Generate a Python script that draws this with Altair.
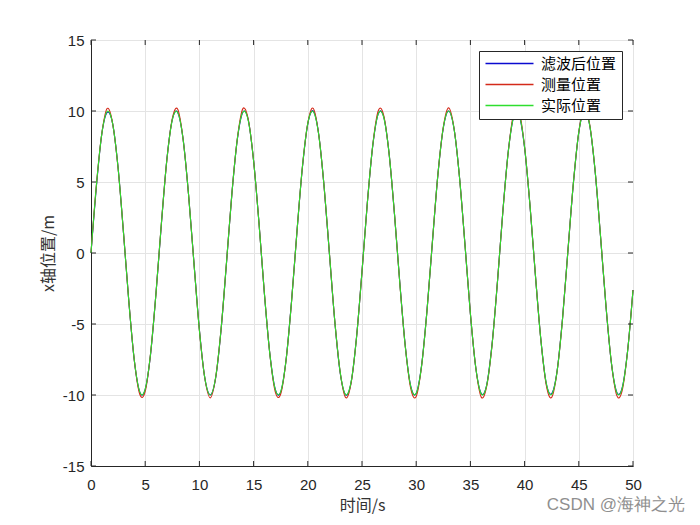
import altair as alt
import pandas as pd

# ---- data ----
time_s = [0, 0.5, 1, 1.5, 2, 2.5, 3, 3.5, 4, 4.5,
          5, 5.5, 6, 6.5, 7, 7.5, 8, 8.5, 9, 9.5,
          10, 10.5, 11, 11.5, 12, 12.5, 13, 13.5, 14, 14.5,
          15, 15.5, 16, 16.5, 17, 17.5, 18, 18.5, 19, 19.5,
          20, 20.5, 21, 21.5, 22, 22.5, 23, 23.5, 24, 24.5,
          25, 25.5, 26, 26.5, 27, 27.5, 28, 28.5, 29, 29.5,
          30, 30.5, 31, 31.5, 32, 32.5, 33, 33.5, 34, 34.5,
          35, 35.5, 36, 36.5, 37, 37.5, 38, 38.5, 39, 39.5,
          40, 40.5, 41, 41.5, 42, 42.5, 43, 43.5, 44, 44.5,
          45, 45.5, 46, 46.5, 47, 47.5, 48, 48.5, 49, 49.5,
          50]

actual = [0, 4.79, 8.41, 9.97, 9.09, 5.98, 1.41, -3.51, -7.57, -9.78,
          -9.59, -7.06, -2.79, 2.15, 6.57, 9.38, 9.89, 7.98, 4.12, -0.75,
          -5.44, -8.80, -10.00, -8.75, -5.37, -0.66, 4.20, 8.04, 9.91, 9.35,
          6.50, 2.07, -2.88, -7.12, -9.61, -9.76, -7.51, -3.43, 1.50, 6.05,
          9.13, 9.96, 8.37, 4.72, -0.09, -4.87, -8.46, -9.98, -9.06, -5.91,
          -1.32, 3.59, 7.63, 9.80, 9.56, 7.00, 2.71, -2.24, -6.64, -9.41,
          -9.88, -7.93, -4.04, 0.84, 5.51, 8.84, 10.00, 8.71, 5.29, 0.57,
          -4.28, -8.09, -9.92, -9.32, -6.44, -1.99, 2.96, 7.17, 9.64, 9.74,
          7.45, 3.35, -1.58, -6.12, -9.17, -9.95, -8.32, -4.64, 0.18, 4.94,
          8.51, 9.99, 9.02, 5.84, 1.23, -3.66, -7.68, -9.82, -9.53, -6.93,
          -2.62]

measured = [0.02, 4.80, 8.42, 10.18, 9.10, 5.97, 1.42, -3.50, -7.58, -9.95,
            -9.75, -7.05, -2.80, 2.16, 6.56, 9.46, 10.12, 7.99, 4.11, -0.74,
            -5.45, -8.82, -10.20, -8.77, -5.36, -0.67, 4.21, 8.05, 10.15, 9.42,
            6.49, 2.08, -2.87, -7.13, -9.78, -9.93, -7.52, -3.42, 1.51, 6.04,
            9.15, 10.19, 8.38, 4.71, -0.08, -4.88, -8.47, -10.19, -9.13, -5.90,
            -1.33, 3.60, 7.64, 10.02, 9.70, 6.99, 2.72, -2.25, -6.63, -9.55,
            -10.10, -7.94, -4.03, 0.85, 5.50, 8.86, 10.22, 8.73, 5.28, 0.58,
            -4.27, -8.10, -10.15, -9.40, -6.45, -1.98, 2.97, 7.18, 9.86, 9.96,
            7.46, 3.34, -1.59, -6.11, -9.30, -10.17, -8.33, -4.63, 0.19, 4.93,
            8.52, 10.21, 9.08, 5.83, 1.24, -3.65, -7.69, -10.03, -9.70, -6.92,
            -2.61]

filtered = [0.0, 4.7, 8.4, 9.9, 9.1, 6.0, 1.4, -3.5, -7.6, -9.8,
            -9.6, -7.1, -2.8, 2.1, 6.6, 9.4, 9.9, 8.0, 4.1, -0.7,
            -5.4, -8.8, -10.0, -8.8, -5.4, -0.7, 4.2, 8.0, 9.9, 9.4,
            6.5, 2.1, -2.9, -7.1, -9.6, -9.8, -7.5, -3.4, 1.5, 6.0,
            9.1, 10.0, 8.4, 4.7, -0.1, -4.9, -8.5, -10.0, -9.1, -5.9,
            -1.3, 3.6, 7.6, 9.8, 9.6, 7.0, 2.7, -2.2, -6.6, -9.4,
            -9.9, -7.9, -4.0, 0.8, 5.5, 8.8, 10.0, 8.7, 5.3, 0.6,
            -4.3, -8.1, -9.9, -9.3, -6.4, -2.0, 3.0, 7.2, 9.6, 9.7,
            7.4, 3.3, -1.6, -6.1, -9.2, -9.9, -8.3, -4.6, 0.2, 4.9,
            8.5, 10.0, 9.0, 5.8, 1.2, -3.7, -7.7, -9.8, -9.5, -6.9,
            -2.6]

series_names = ["滤波后位置", "测量位置", "实际位置"]
series_colors = ["#0a0ad0", "#d42a1a", "#2ede2e"]
x_ticks = [0, 5, 10, 15, 20, 25, 30, 35, 40, 45, 50]
y_ticks = [-15, -10, -5, 0, 5, 10, 15]
x_title = "时间/s"
y_title = "x轴位置/m"
watermark = ["CSDN @海神之光"]

# ---- build table ----
rows = []
for name, vals in zip(series_names, [filtered, measured, actual]):
    for t, v in zip(time_s, vals):
        rows.append({"t": t, "v": v, "series": name})
df = pd.DataFrame(rows)

W, H = 542, 426
CJK = "Noto Sans CJK SC"
AX = "#262626"

xs = alt.Scale(domain=[0, 50], nice=False, zero=False)
ys = alt.Scale(domain=[-15, 15], nice=False, zero=False)
xaxis = alt.Axis(title=x_title, values=x_ticks, labelPadding=11, titlePadding=5,
                 labelFlush=False, labelExpr="'' + datum.value")
yaxis = alt.Axis(title=y_title, values=y_ticks, labelPadding=7, titlePadding=6,
                 labelFlush=False, labelExpr="'' + datum.value")

X = alt.X("t:Q", scale=xs, axis=xaxis)
Y = alt.Y("v:Q", scale=ys, axis=yaxis)

color = alt.Color(
    "series:N",
    scale=alt.Scale(domain=series_names, range=series_colors),
    legend=alt.Legend(
        title=None, orient="top-right", offset=11,
        symbolType="M-1,0H7", symbolSize=144, symbolStrokeWidth=1.5,
        labelFont=CJK, labelFontSize=15, labelColor="#000000",
        labelOffset=42, rowPadding=5, padding=5,
        fillColor="white", strokeColor=AX, cornerRadius=0,
    ),
)


def line_layer(name):
    return (
        alt.Chart(df)
        .transform_filter(alt.datum.series == name)
        .mark_line(strokeWidth=1.1, interpolate="cardinal", tension=0)
        .encode(x=X, y=Y, color=color)
    )


lines = [line_layer(n) for n in series_names]

xt = pd.DataFrame({"t": x_ticks})
yt = pd.DataFrame({"v": y_ticks})
tick_style = dict(color=AX, strokeWidth=1)
bottom_ticks = alt.Chart(xt).mark_rule(**tick_style).encode(x=X, y=alt.value(H), y2=alt.value(H - 5))
top_ticks = alt.Chart(xt).mark_rule(**tick_style).encode(x=X, y=alt.value(0), y2=alt.value(5))
left_ticks = alt.Chart(yt).mark_rule(**tick_style).encode(y=Y, x=alt.value(0), x2=alt.value(5))
right_ticks = alt.Chart(yt).mark_rule(**tick_style).encode(y=Y, x=alt.value(W), x2=alt.value(W - 5))

wm = (
    alt.Chart(pd.DataFrame({"label": watermark}))
    .mark_text(align="right", baseline="middle", font="Liberation Sans", fontSize=17, color="#8f8f8f")
    .encode(text="label:N", x=alt.value(594), y=alt.value(465))
)

chart = (
    alt.layer(*lines, bottom_ticks, top_ticks, left_ticks, right_ticks, wm)
    .properties(
        width=W, height=H,
        autosize=alt.AutoSizeParams(type="none"),
        padding={"left": 83, "top": 32, "right": 59, "bottom": 51},
        background="white",
    )
    .configure_view(stroke=AX, strokeWidth=1)
    .configure_axis(
        domainColor=AX, domainWidth=1, ticks=False,
        grid=True, gridColor="#e4e4e4", gridWidth=1,
        labelFont="Liberation Sans", labelFontSize=15, labelColor=AX,
        titleFont=CJK, titleFontSize=16, titleFontWeight="normal", titleColor="#333333",
    )
)

chart.save("out.html", embed_options={"renderer": "svg", "actions": False})
